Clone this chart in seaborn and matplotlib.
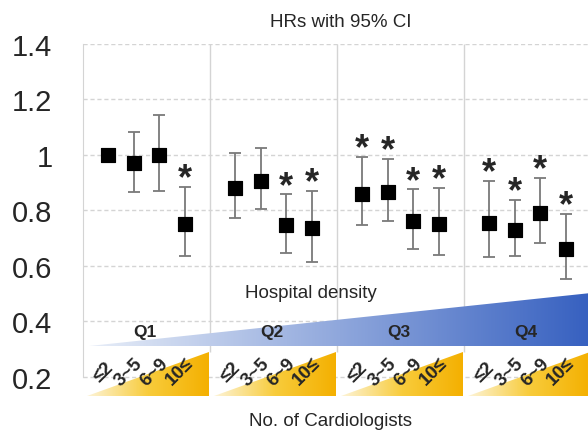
import numpy as np
import pandas as pd
import matplotlib
matplotlib.use("Agg")
import matplotlib.pyplot as plt
import seaborn as sns
from matplotlib.colors import LinearSegmentedColormap
from matplotlib.patches import Polygon

# hazard ratios per hospital-density quartile (rows) and cardiologist count (cols)
quartiles = ["Q1", "Q2", "Q3", "Q4"]
cardio    = ["≤2", "3~5", "6~9", "10≤"]
hr = [[1.00, 0.97, 1.00, 0.75],
      [0.88, 0.905, 0.745, 0.735],
      [0.86, 0.865, 0.76, 0.75],
      [0.755, 0.73, 0.79, 0.66]]
ci_low = [[np.nan, 0.866, 0.869, 0.634],
          [0.772, 0.804, 0.646, 0.614],
          [0.748, 0.762, 0.661, 0.639],
          [0.632, 0.634, 0.681, 0.551]]
ci_high = [[np.nan, 1.082, 1.144, 0.883],
           [1.007, 1.024, 0.857, 0.869],
           [0.993, 0.985, 0.875, 0.880],
           [0.906, 0.838, 0.916, 0.786]]
signif = [[0, 0, 0, 1],
          [0, 0, 1, 1],
          [1, 1, 1, 1],
          [1, 1, 1, 1]]
yticks = [0.2, 0.4, 0.6, 0.8, 1.0, 1.2, 1.4]
ylabels = ["0.2", "0.4", "0.6", "0.8", "1", "1.2", "1.4"]

offsets = [-0.3, -0.1, 0.1, 0.3]

rows = []
for g, q in enumerate(quartiles):
    for j, c in enumerate(cardio):
        rows.append({"quartile": q, "cardio": c, "x": g + 1 + offsets[j],
                     "hr": hr[g][j], "lo": ci_low[g][j], "hi": ci_high[g][j],
                     "sig": signif[g][j]})
df = pd.DataFrame(rows)

sns.set_style("white")
FONT = ["Liberation Sans", "DejaVu Sans"]
plt.rcParams["font.family"] = FONT

fig = plt.figure(figsize=(5.88, 4.35), dpi=100)
ax = fig.add_axes([83 / 588, 36.5 / 435, 508 / 588, 353.8 / 435])
ax.set_xlim(0.5, 4.5)
ax.set_ylim(0.125, 1.4)

# grid
for yv in yticks:
    ax.axhline(yv, color="#d4d4d4", lw=1, ls=(0, (3, 2)), zorder=0)
ax.vlines([1.5, 2.5, 3.5], 0.29, 1.4, color="#d4d4d4", lw=1, zorder=0)
for s in ["top", "right", "bottom"]:
    ax.spines[s].set_visible(False)
ax.spines["left"].set_bounds(0.2, 1.4)
ax.spines["left"].set_color("#d4d4d4")
ax.set_xticks([])
ax.set_yticks(yticks)
ax.set_yticklabels(ylabels, fontsize=21)
ax.tick_params(axis="y", length=8, color="#d4d4d4", width=1, pad=14)

# CIs and HR squares
err = df.dropna(subset=["lo"])
ax.errorbar(err["x"], err["hr"], yerr=[err["hr"] - err["lo"], err["hi"] - err["hr"]],
            fmt="none", ecolor="#7a7a7a", elinewidth=1.3, capsize=4, capthick=1.3, zorder=2)
sns.scatterplot(data=df, x="x", y="hr", marker="s", color="black", edgecolor="black",
                s=110, ax=ax, legend=False, zorder=3)
for _, r in df[df["sig"] == 1].iterrows():
    ax.text(r["x"], r["hi"] - 0.005, "*", ha="center", va="baseline", fontsize=26,
            fontweight="bold", zorder=4)

# hospital density wedge (blue gradient)
blue = LinearSegmentedColormap.from_list("blue", ["#e8eef8", "#3660c0"])
wedge = Polygon([(0.55, 0.311), (4.5, 0.311), (4.5, 0.502)], closed=True,
                facecolor="none", edgecolor="none")
ax.add_patch(wedge)
im = ax.imshow(np.linspace(0, 1, 256).reshape(1, -1), extent=[0.55, 4.5, 0.311, 0.502],
               origin="lower", aspect="auto", cmap=blue, zorder=1)
im.set_clip_path(wedge)

# cardiologist wedges (yellow gradient)
gold = LinearSegmentedColormap.from_list("gold", ["#fdf4d8", "#f8cc3c", "#f4b000"])
for g in range(len(quartiles)):
    x0, x1 = g + 0.53, g + 1.49
    tri = Polygon([(x0, 0.131), (x1, 0.131), (x1, 0.289)], closed=True,
                  facecolor="none", edgecolor="none")
    ax.add_patch(tri)
    im = ax.imshow(np.linspace(0, 1, 256).reshape(1, -1), extent=[x0, x1, 0.131, 0.289],
                   origin="lower", aspect="auto", cmap=gold, zorder=1)
    im.set_clip_path(tri)
    ax.text(g + 1 - 0.01, 0.362, quartiles[g], ha="center", va="center",
            fontsize=12.5, fontweight="bold", zorder=4)
    for j, c in enumerate(cardio):
        ax.text(g + 1 + offsets[j] - 0.04, 0.22, c, ha="center", va="center",
                rotation=45, fontsize=13.5, fontweight="bold", zorder=4)

ax.set_xlim(0.5, 4.5)
ax.set_ylim(0.125, 1.4)

ax.text(2.295, 0.505, "Hospital density", ha="center", va="center", fontsize=13.5)
ax.text(2.53, 1.48, "HRs with 95% CI", ha="center", va="center", fontsize=13.5, clip_on=False)
ax.text(2.45, 0.042, "No. of Cardiologists", ha="center", va="center", fontsize=13.5, clip_on=False)
ax.set_xlabel("")
ax.set_ylabel("")

fig.savefig("out.png", dpi=100)
